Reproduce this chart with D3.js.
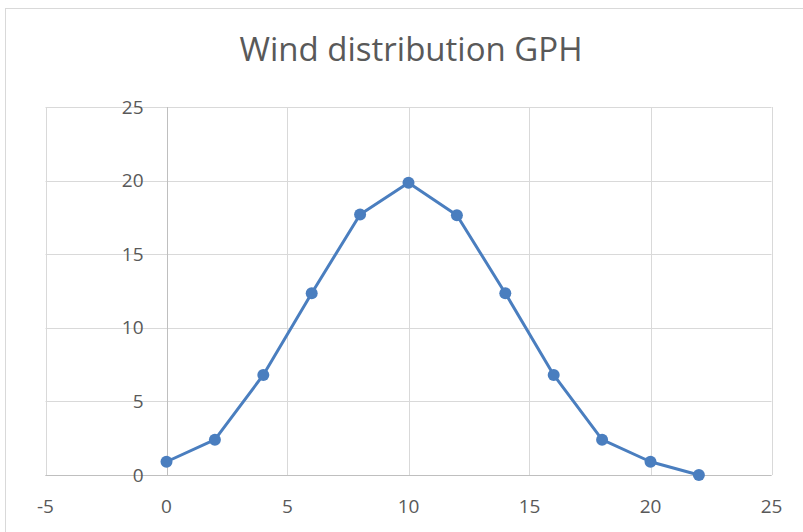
<!DOCTYPE html>
<html>
<head>
<meta charset="utf-8">
<script src="https://cdn.jsdelivr.net/npm/d3@7"></script>
<style>
  html, body { margin: 0; padding: 0; background: #fff; }
  svg { display: block; }
  text { font-family: "Open Sans", "Noto Sans", sans-serif; fill: #595959; }
</style>
</head>
<body>
<svg id="chart" width="803" height="532"></svg>
<script>
// Wind speed bins and the share of hours in each
const speeds = [0, 2, 4, 6, 8, 10, 12, 14, 16, 18, 20, 22];
const shares = [0.9, 2.4, 6.8, 12.35, 17.7, 19.85, 17.65, 12.35, 6.8, 2.4, 0.9, 0];
const xTicks = [-5, 0, 5, 10, 15, 20, 25];
const yTicks = [0, 5, 10, 15, 20, 25];
const title = "Wind distribution GPH";

const svg = d3.select("#chart");
const W = 803, H = 532;
const plot = { left: 45.5, right: 771.5, top: 107, bottom: 475 };

// chart frame
svg.append("rect")
  .attr("x", 5.5).attr("y", 8.5)
  .attr("width", W).attr("height", H)
  .attr("fill", "#fff").attr("stroke", "#d9d9d9").attr("stroke-width", 1);

const x = d3.scaleLinear().domain([-5, 25]).range([plot.left, plot.right]);
const y = d3.scaleLinear().domain([0, 25]).range([plot.bottom, plot.top]);

// gridlines
const grid = svg.append("g").attr("stroke", "#d9d9d9").attr("stroke-width", 1);
grid.selectAll("line.v").data(xTicks).join("line")
  .attr("class", "v")
  .attr("x1", d => Math.round(x(d)) + 0.5).attr("x2", d => Math.round(x(d)) + 0.5)
  .attr("y1", plot.top).attr("y2", plot.bottom);
grid.selectAll("line.h").data(yTicks).join("line")
  .attr("class", "h")
  .attr("x1", plot.left).attr("x2", plot.right)
  .attr("y1", d => Math.round(y(d)) + 0.5).attr("y2", d => Math.round(y(d)) + 0.5);

// axis lines through the origin
svg.append("line")
  .attr("x1", Math.round(x(0)) + 0.5).attr("x2", Math.round(x(0)) + 0.5)
  .attr("y1", plot.top).attr("y2", plot.bottom)
  .attr("stroke", "#bfbfbf");
svg.append("line")
  .attr("x1", plot.left).attr("x2", plot.right)
  .attr("y1", Math.round(y(0)) + 0.5).attr("y2", Math.round(y(0)) + 0.5)
  .attr("stroke", "#bfbfbf");

// y tick labels sit just left of the vertical axis at x = 0
svg.append("g").selectAll("text").data(yTicks).join("text")
  .attr("x", x(0) - 23)
  .attr("y", d => y(d))
  .attr("dy", "0.35em")
  .attr("text-anchor", "end")
  .attr("font-size", 19)
  .text(d => d);

// x tick labels
svg.append("g").selectAll("text").data(xTicks).join("text")
  .attr("x", d => x(d))
  .attr("y", 506)
  .attr("dy", "0.35em")
  .attr("text-anchor", "middle")
  .attr("font-size", 19)
  .text(d => d);

// title
svg.append("text")
  .attr("x", 411).attr("y", 61)
  .attr("text-anchor", "middle")
  .attr("font-size", 33)
  .text(title);

// series line and markers
const data = speeds.map((s, i) => ({ s, v: shares[i] }));
const blue = "#4a7ebf";
svg.append("path")
  .datum(data)
  .attr("fill", "none")
  .attr("stroke", blue)
  .attr("stroke-width", 3)
  .attr("stroke-linejoin", "round")
  .attr("d", d3.line().x(d => x(d.s)).y(d => y(d.v)));
svg.append("g").selectAll("circle").data(data).join("circle")
  .attr("cx", d => x(d.s)).attr("cy", d => y(d.v))
  .attr("r", 6)
  .attr("fill", blue);
</script>
</body>
</html>
